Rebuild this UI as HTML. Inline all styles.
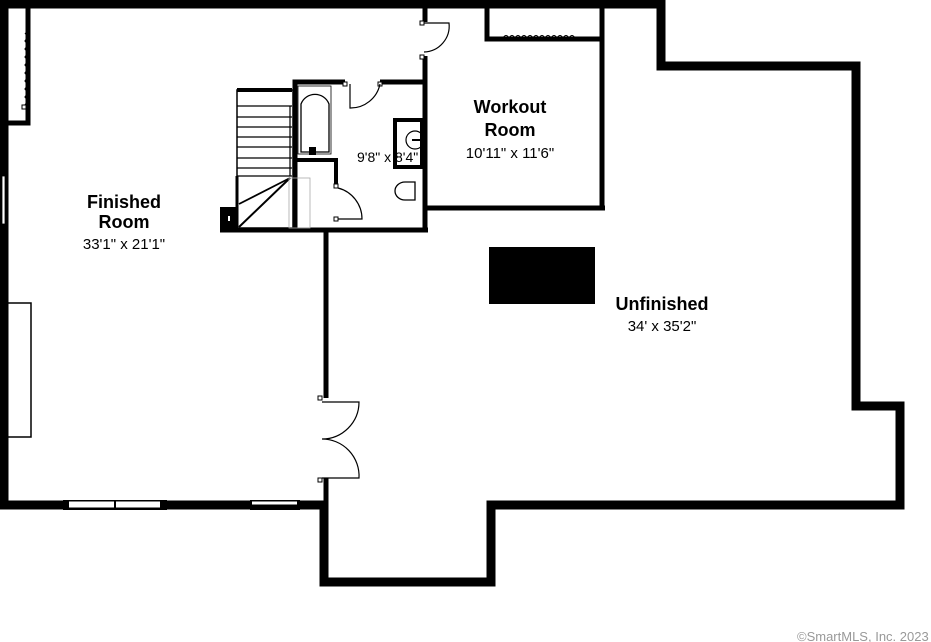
<!DOCTYPE html>
<html><head><style>
body{margin:0;background:#fff;width:931px;height:642px;overflow:hidden}
svg{display:block}
text{font-family:"Liberation Sans",Arial,sans-serif}
</style></head><body>
<svg width="931" height="642" viewBox="0 0 931 642">
<rect width="931" height="642" fill="#fff"/>
<polygon points="4,4 661,4 661,66 856,66 856,406 900,406 900,505 491,505 491,582 324,582 324,505 4,505" fill="none" stroke="#000" stroke-width="9" stroke-linejoin="miter"/>
<polyline points="28,8 28,123 8,123" fill="none" stroke="#000" stroke-width="5"/>
<path d="M25,33 q4,4 0,8 q4,4 0,8 q4,4 0,8 q4,4 0,8 q4,4 0,8 q4,4 0,8 q4,4 0,8 q4,4 0,8 q4,4 0,8" fill="none" stroke="#000" stroke-width="1.2"/>
<rect x="22" y="105" width="4" height="4" fill="#fff" stroke="#000"/>
<rect x="2" y="176" width="3" height="48" fill="#fff" stroke="#000" stroke-width="0.8"/>
<polyline points="8,303 31,303 31,437 8,437" fill="none" stroke="#000" stroke-width="1.5"/>
<rect x="63" y="500" width="104" height="10" fill="#000"/>
<rect x="69" y="501.5" width="45" height="6" fill="#fff"/>
<rect x="116" y="501.5" width="44" height="6" fill="#fff"/>
<rect x="250" y="500" width="50" height="10" fill="#000"/>
<rect x="252" y="501.5" width="45" height="3" fill="#fff"/>
<line x1="326" y1="230" x2="326" y2="398" stroke="#000" stroke-width="5"/>
<line x1="326" y1="478" x2="326" y2="502" stroke="#000" stroke-width="5"/>
<rect x="318" y="396" width="4" height="4" fill="#fff" stroke="#000"/>
<rect x="318" y="478" width="4" height="4" fill="#fff" stroke="#000"/>
<path d="M322,402 L359,402 A37,37 0 0 1 322,439 A37,37 0 0 1 359,478 L322,478" fill="none" stroke="#000" stroke-width="1.2"/>
<line x1="425" y1="8" x2="425" y2="22" stroke="#000" stroke-width="5"/>
<line x1="425" y1="56" x2="425" y2="232" stroke="#000" stroke-width="5"/>
<rect x="420" y="21" width="4" height="4" fill="#fff" stroke="#000"/>
<rect x="420" y="55" width="4" height="4" fill="#fff" stroke="#000"/>
<path d="M424,23 L449,23 A26,26 0 0 1 424,52" fill="none" stroke="#000" stroke-width="1.2"/>
<line x1="425" y1="208" x2="605" y2="208" stroke="#000" stroke-width="5"/>
<line x1="602" y1="8" x2="602" y2="210" stroke="#000" stroke-width="5"/>
<polyline points="487,8 487,39 603,39" fill="none" stroke="#000" stroke-width="5"/>
<path d="M503,38 q3,-5 6,0 q3,-5 6,0 q3,-5 6,0 q3,-5 6,0 q3,-5 6,0 q3,-5 6,0 q3,-5 6,0 q3,-5 6,0 q3,-5 6,0 q3,-5 6,0 q3,-5 6,0 q3,-5 6,0" fill="none" stroke="#000" stroke-width="1.1"/>
<polyline points="295,230 295,82 345,82" fill="none" stroke="#000" stroke-width="5"/>
<line x1="380" y1="82" x2="425" y2="82" stroke="#000" stroke-width="5"/>
<rect x="343" y="82" width="4" height="4" fill="#fff" stroke="#000"/>
<rect x="378" y="82" width="4" height="4" fill="#fff" stroke="#000"/>
<path d="M350,84 L350,108 A30,30 0 0 0 380,84" fill="none" stroke="#000" stroke-width="1.2"/>
<line x1="220" y1="230" x2="428" y2="230" stroke="#000" stroke-width="5"/>
<path d="M301,152 L301,104 A15,15 0 0 1 329,104 L329,152 Z" fill="none" stroke="#000" stroke-width="1.3"/>
<rect x="298" y="86" width="33" height="68" fill="none" stroke="#000" stroke-width="0.8"/>
<rect x="309" y="147" width="7" height="8" fill="#000"/>
<polyline points="295,160 336,160 336,185" fill="none" stroke="#000" stroke-width="4"/>
<rect x="334" y="184" width="4" height="4" fill="#fff" stroke="#000"/>
<rect x="334" y="217" width="4" height="4" fill="#fff" stroke="#000"/>
<path d="M338,188 A32,32 0 0 1 362,219 L338,219" fill="none" stroke="#000" stroke-width="1.2"/>
<rect x="395" y="120" width="27" height="47" fill="#fff" stroke="#000" stroke-width="4"/>
<circle cx="415" cy="140" r="9" fill="none" stroke="#000" stroke-width="1.2"/>
<line x1="412" y1="140" x2="421" y2="140" stroke="#000" stroke-width="2"/>
<path d="M415,182 L405,182 A10,9 0 0 0 405,200 L415,200 Z" fill="none" stroke="#000" stroke-width="1.3"/>
<rect x="237" y="90" width="56" height="138" fill="none" stroke="#000" stroke-width="1.5"/>
<rect x="237" y="88" width="55" height="4" fill="#000"/>
<g stroke="#000" stroke-width="1.2">
<line x1="237" y1="106" x2="292" y2="106"/><line x1="237" y1="117" x2="292" y2="117"/>
<line x1="237" y1="127" x2="292" y2="127"/><line x1="237" y1="137" x2="292" y2="137"/>
<line x1="237" y1="147" x2="292" y2="147"/><line x1="237" y1="158" x2="292" y2="158"/>
<line x1="237" y1="168" x2="292" y2="168"/><line x1="237" y1="176" x2="292" y2="176"/>
<line x1="237" y1="176" x2="237" y2="228" stroke-width="3"/>
<line x1="239" y1="227" x2="290" y2="178" stroke-width="2"/>
<line x1="239" y1="204" x2="290" y2="178" stroke-width="1.8"/>
<line x1="290" y1="106" x2="290" y2="176"/>
</g>
<rect x="289" y="178" width="21" height="50" fill="none" stroke="#aaa" stroke-width="0.8"/>
<rect x="220" y="207" width="17" height="25" fill="#000"/>
<rect x="228" y="216" width="2" height="5" fill="#fff"/>
<rect x="489" y="247" width="106" height="57" fill="#000"/>
<text x="124" y="208" font-size="18" font-weight="bold" text-anchor="middle">Finished</text>
<text x="124" y="228" font-size="18" font-weight="bold" text-anchor="middle">Room</text>
<text x="124" y="249" font-size="15" text-anchor="middle">33'1" x 21'1"</text>
<text x="510" y="113" font-size="18" font-weight="bold" text-anchor="middle">Workout</text>
<text x="510" y="136" font-size="18" font-weight="bold" text-anchor="middle">Room</text>
<text x="510" y="158" font-size="15" text-anchor="middle">10'11" x 11'6"</text>
<text x="357" y="162" font-size="14">9'8" x 8'4"</text>
<text x="662" y="310" font-size="18" font-weight="bold" text-anchor="middle">Unfinished</text>
<text x="662" y="331" font-size="15" text-anchor="middle">34' x 35'2"</text>
<text x="797" y="641" font-size="13" fill="#999">©SmartMLS, Inc. 2023</text>
</svg>
</body></html>
